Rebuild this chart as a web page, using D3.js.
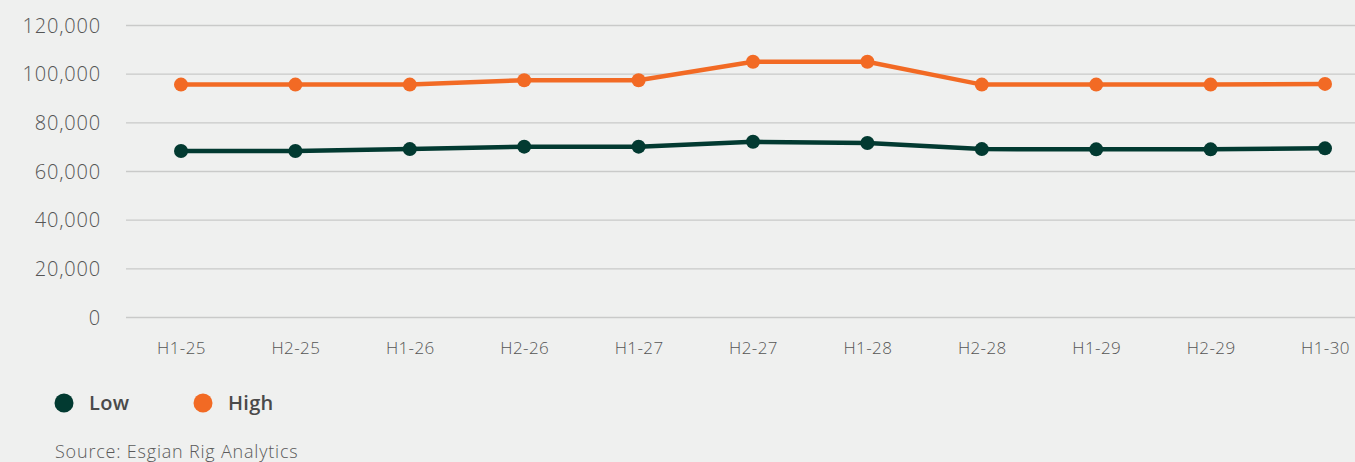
<!DOCTYPE html>
<html>
<head>
<meta charset="utf-8">
<script src="https://cdn.jsdelivr.net/npm/d3@7"></script>
<style>
  body { margin: 0; background: #eff0ef; }
  svg text { font-family: "Open Sans", "Noto Sans", sans-serif; }
</style>
</head>
<body>
<div id="chart"></div>
<script>
// data
var periods = ["H1-25", "H2-25", "H1-26", "H2-26", "H1-27", "H2-27", "H1-28", "H2-28", "H1-29", "H2-29", "H1-30"];
var lowValues = [68200, 68200, 69000, 70000, 70000, 72000, 71500, 69000, 68900, 68900, 69300];
var highValues = [95500, 95500, 95500, 97300, 97300, 104900, 104900, 95500, 95500, 95500, 95800];
var yTicks = [0, 20000, 40000, 60000, 80000, 100000, 120000];
var seriesNames = ["Low", "High"];
var seriesColors = ["#023a31", "#f26a24"];

var width = 1355, height = 462;
var svg = d3.select("#chart").append("svg")
  .attr("width", width)
  .attr("height", height)
  .style("display", "block");

svg.append("rect").attr("width", width).attr("height", height).attr("fill", "#eff0ef");

var x = d3.scalePoint().domain(periods).range([181, 1325]);
var y = d3.scaleLinear().domain([0, 120000]).range([317, 25]);

// GRID + Y LABELS
var yAxis = svg.append("g").attr("transform", "translate(126,0)")
  .call(d3.axisLeft(y).tickValues(yTicks).tickSize(-(width - 126)).tickPadding(25)
    .tickFormat(d3.format(",")));
yAxis.attr("font-family", null);
yAxis.select(".domain").remove();
yAxis.selectAll(".tick line").attr("stroke", "#c9cac9").attr("stroke-width", 1.3);
yAxis.selectAll(".tick text").attr("fill", "#555").attr("dy", "0.36em")
  .style("font-size", "20px").style("font-weight", 300).style("letter-spacing", "0.8px");

// X LABELS
var xAxis = svg.append("g").attr("transform", "translate(0,317)")
  .call(d3.axisBottom(x).tickSize(0).tickPadding(25));
xAxis.attr("font-family", null);
xAxis.select(".domain").remove();
xAxis.selectAll(".tick text").attr("fill", "#555")
  .style("font-size", "17px").style("font-weight", 300).style("letter-spacing", "0.4px");

// LINES
var series = [lowValues, highValues];
var line = d3.line().x(function(d, i) { return x(periods[i]); }).y(function(d) { return y(d); });

series.forEach(function(vals, s) {
  svg.append("path").datum(vals)
    .attr("d", line)
    .attr("fill", "none")
    .attr("stroke", seriesColors[s])
    .attr("stroke-width", 4.5);
  svg.selectAll(".dot" + s).data(vals).enter().append("circle")
    .attr("cx", function(d, i) { return x(periods[i]); })
    .attr("cy", function(d) { return y(d); })
    .attr("r", 7)
    .attr("fill", seriesColors[s]);
});

// LEGEND
var legendX = [64, 203];
seriesNames.forEach(function(name, i) {
  svg.append("circle").attr("cx", legendX[i]).attr("cy", 403).attr("r", 9.5).attr("fill", seriesColors[i]);
  svg.append("text").attr("x", legendX[i] + 25).attr("y", 410)
    .attr("fill", "#4a4a4a").style("font-size", "20px").style("font-weight", 600)
    .style("letter-spacing", "0.3px")
    .text(name);
});

// SOURCE
svg.append("text").attr("x", 55).attr("y", 458)
  .attr("fill", "#5a5a5a").style("font-size", "18px").style("font-weight", 300)
  .style("letter-spacing", "0.8px")
  .text("Source: Esgian Rig Analytics");
</script>
</body>
</html>
